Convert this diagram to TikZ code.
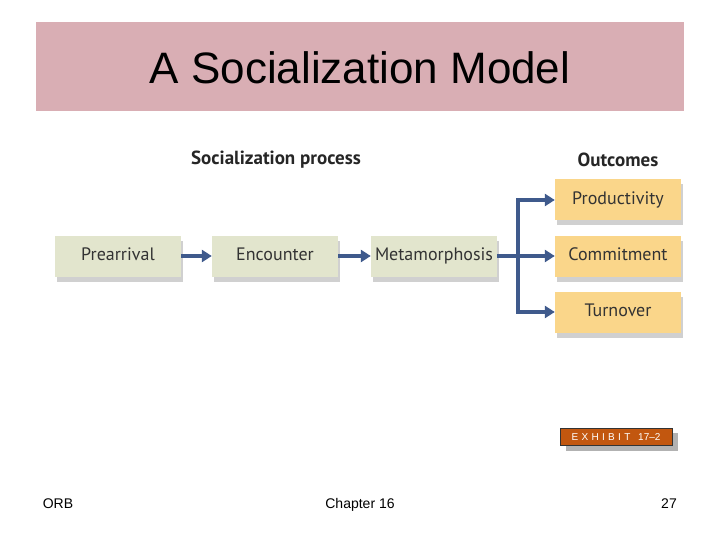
\documentclass[tikz,border=0pt]{standalone}
\usepackage{fontspec}
\setmainfont{Liberation Sans}
\newfontfamily\boxfont{PT Sans}
\usetikzlibrary{arrows.meta,shadows}
\definecolor{band}{HTML}{D9AEB4}
\definecolor{green}{HTML}{E2E5CD}
\definecolor{orng}{HTML}{FAD68A}
\definecolor{arr}{HTML}{3F5A8C}
\definecolor{exh}{HTML}{C2570F}
\begin{document}
\begin{tikzpicture}[x=1pt,y=-1pt,
  stage/.style={minimum width=126pt,minimum height=41pt,inner sep=0pt,font=\boxfont\fontsize{18}{20}\selectfont,text=black!80,
    text height=12pt,text depth=3pt,
    drop shadow={shadow xshift=2pt,shadow yshift=-5pt,opacity=0.3,fill=black!60}},
  proc/.style={stage,fill=green},
  outc/.style={stage,fill=orng},
  link/.style={draw=arr,line width=3.6pt,-{Triangle[length=10pt,width=12pt]}},
  foot/.style={font=\fontsize{14}{16}\selectfont,anchor=base}]
\useasboundingbox (0,0) rectangle (720,540);
\fill[white] (0,0) rectangle (720,540);
\node[fill=band,minimum width=648pt,minimum height=89pt,inner sep=0pt] (band) at (360,66.5) {};
\node[font=\fontsize{44}{48}\selectfont] (title) at (360,68) {A Socialization Model};
\node[font=\boxfont\bfseries\fontsize{19}{21}\selectfont,text=black!85] (h1) at (276,160) {Socialization process};
\node[font=\boxfont\bfseries\fontsize{19}{21}\selectfont,text=black!85] (h2) at (618,160) {Outcomes};
\node[proc] (pre) at (118,256) {Prearrival};
\node[proc] (enc) at (275,256) {Encounter};
\node[proc] (met) at (434,256) {Metamorphosis};
\node[outc] (pro) at (618,200) {Productivity};
\node[outc] (com) at (618,256) {Commitment};
\node[outc] (tur) at (618,312) {Turnover};
\draw[link] (pre) -- (enc);
\draw[link] (enc) -- (met);
\draw[link] (met) -- (com);
\coordinate (br) at (518,256);
\draw[link] (br) |- (pro);
\draw[link] (br) |- (tur);
\fill[black!30] (566,433) rectangle (678,451);
\node[fill=exh,draw=black!80,line width=0.8pt,minimum width=112pt,minimum height=17pt,inner sep=0pt,text=white,font=\fontsize{10}{11}\selectfont] (ex) at (616,437) {E\,\,X\,\,H\,\,I\,\,B\,\,I\,\,T\,\,\, 17--2};
\node[foot] (orb) at (58,508) {ORB};
\node[foot] (ch) at (360,508) {Chapter 16};
\node[foot] (pg) at (669,508) {27};
\end{tikzpicture}
\end{document}
